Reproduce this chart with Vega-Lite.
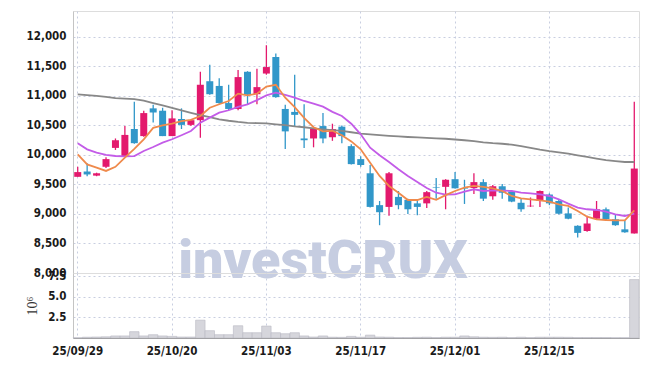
{
  "$schema": "https://vega.github.io/schema/vega-lite/v6.json",
  "padding": {"left": 25, "top": 10, "right": 9, "bottom": 5},
  "background": "white",
  "spacing": 0,
  "bounds": "flush",
  "config": {
    "view": {"stroke": "#dddddd"},
    "axis": {
      "labelFont": "DejaVu Sans Condensed",
      "labelFontSize": 11.5,
      "labelFontWeight": "bold",
      "labelColor": "#1a1a1a",
      "gridColor": "#c8cee0",
      "gridDash": [2, 3],
      "gridWidth": 1,
      "domainColor": "#c4c4c4",
      "ticks": false,
      "tickSize": 0,
      "labelPadding": 7
    }
  },
  "datasets": {
    "k": [
      {"d":"25/09/29","o":9630,"c":9710,"h":9800,"l":9630,"v":0.03,"m5":10010,"m10":10198,"mL":11028},
      {"d":"25/09/30","o":9720,"c":9670,"h":9860,"l":9640,"v":0.10,"m5":9840,"m10":10096,"mL":11015},
      {"d":"25/10/01","o":9650,"c":9690,"h":9700,"l":9640,"v":0.12,"m5":9785,"m10":10039,"mL":11000},
      {"d":"25/10/02","o":9800,"c":9930,"h":9960,"l":9780,"v":0.15,"m5":9730,"m10":10000,"mL":10985},
      {"d":"25/10/10","o":10120,"c":10250,"h":10280,"l":10085,"v":0.25,"m5":9800,"m10":9983,"mL":10965},
      {"d":"25/10/13","o":9970,"c":10340,"h":10490,"l":9960,"v":0.25,"m5":9955,"m10":9975,"mL":10955},
      {"d":"25/10/14","o":10440,"c":10200,"h":10900,"l":10190,"v":0.77,"m5":10105,"m10":9980,"mL":10945},
      {"d":"25/10/15","o":10320,"c":10710,"h":10750,"l":10310,"v":0.25,"m5":10265,"m10":10068,"mL":10920},
      {"d":"25/10/16","o":10790,"c":10720,"h":10850,"l":10550,"v":0.40,"m5":10460,"m10":10136,"mL":10880},
      {"d":"25/10/17","o":10750,"c":10320,"h":10800,"l":10320,"v":0.25,"m5":10500,"m10":10209,"mL":10840},
      {"d":"25/10/20","o":10320,"c":10620,"h":10760,"l":10320,"v":0.20,"m5":10530,"m10":10266,"mL":10800},
      {"d":"25/10/21","o":10610,"c":10510,"h":10790,"l":10440,"v":0.12,"m5":10575,"m10":10335,"mL":10755},
      {"d":"25/10/22","o":10510,"c":10590,"h":10600,"l":10490,"v":0.12,"m5":10595,"m10":10407,"mL":10715},
      {"d":"25/10/23","o":10590,"c":11190,"h":11410,"l":10290,"v":2.17,"m5":10660,"m10":10548,"mL":10675},
      {"d":"25/10/24","o":11250,"c":11030,"h":11530,"l":11020,"v":0.89,"m5":10800,"m10":10633,"mL":10640},
      {"d":"25/10/27","o":11170,"c":10880,"h":11300,"l":10870,"v":0.40,"m5":10860,"m10":10718,"mL":10605},
      {"d":"25/10/28","o":10880,"c":10780,"h":11190,"l":10760,"v":0.40,"m5":10915,"m10":10758,"mL":10580},
      {"d":"25/10/29","o":10780,"c":11320,"h":11440,"l":10760,"v":1.49,"m5":11040,"m10":10814,"mL":10560},
      {"d":"25/10/30","o":11410,"c":11020,"h":11420,"l":10860,"v":0.64,"m5":11010,"m10":10859,"mL":10545},
      {"d":"25/10/31","o":11030,"c":11150,"h":11460,"l":10860,"v":0.64,"m5":11040,"m10":10930,"mL":10540},
      {"d":"25/11/03","o":11380,"c":11490,"h":11860,"l":11360,"v":1.45,"m5":11160,"m10":11011,"mL":10535},
      {"d":"25/11/04","o":11660,"c":10980,"h":11720,"l":10970,"v":0.64,"m5":11190,"m10":11056,"mL":10520},
      {"d":"25/11/05","o":10780,"c":10400,"h":10850,"l":10100,"v":0.52,"m5":10970,"m10":11017,"mL":10505},
      {"d":"25/11/06","o":10730,"c":10680,"h":11360,"l":10490,"v":0.64,"m5":10810,"m10":10972,"mL":10485},
      {"d":"25/11/07","o":10280,"c":10250,"h":10860,"l":10120,"v":0.25,"m5":10630,"m10":10915,"mL":10470},
      {"d":"25/11/10","o":10280,"c":10450,"h":10460,"l":10130,"v":0.12,"m5":10470,"m10":10870,"mL":10450},
      {"d":"25/11/11","o":10490,"c":10280,"h":10710,"l":10200,"v":0.25,"m5":10400,"m10":10820,"mL":10435},
      {"d":"25/11/12","o":10300,"c":10440,"h":10530,"l":10240,"v":0.10,"m5":10410,"m10":10730,"mL":10420},
      {"d":"25/11/13","o":10480,"c":10320,"h":10500,"l":10200,"v":0.08,"m5":10335,"m10":10661,"mL":10407},
      {"d":"25/11/14","o":10150,"c":9845,"h":10180,"l":9840,"v":0.20,"m5":10230,"m10":10530,"mL":10385},
      {"d":"25/11/17","o":9930,"c":9830,"h":9980,"l":9800,"v":0.10,"m5":10096,"m10":10350,"mL":10362},
      {"d":"25/11/18","o":9690,"c":9120,"h":9830,"l":9110,"v":0.35,"m5":9870,"m10":10124,"mL":10350},
      {"d":"25/11/19","o":9150,"c":9030,"h":9220,"l":8810,"v":0.12,"m5":9644,"m10":9995,"mL":10337},
      {"d":"25/11/20","o":9120,"c":9690,"h":9710,"l":8970,"v":0.10,"m5":9475,"m10":9881,"mL":10325},
      {"d":"25/11/21","o":9290,"c":9150,"h":9390,"l":9080,"v":0.05,"m5":9361,"m10":9757,"mL":10315},
      {"d":"25/11/24","o":9240,"c":9080,"h":9260,"l":9000,"v":0.05,"m5":9237,"m10":9644,"mL":10305},
      {"d":"25/11/25","o":9180,"c":9120,"h":9250,"l":8980,"v":0.08,"m5":9237,"m10":9542,"mL":10297},
      {"d":"25/11/26","o":9180,"c":9370,"h":9390,"l":9100,"v":0.10,"m5":9290,"m10":9440,"mL":10290},
      {"d":"25/11/27","o":9450,"c":9440,"h":9610,"l":9260,"v":0.05,"m5":9240,"m10":9360,"mL":10283},
      {"d":"25/11/28","o":9460,"c":9580,"h":9590,"l":9080,"v":0.10,"m5":9320,"m10":9330,"mL":10275},
      {"d":"25/12/01","o":9590,"c":9435,"h":9710,"l":9430,"v":0.10,"m5":9390,"m10":9334,"mL":10262},
      {"d":"25/12/02","o":9440,"c":9430,"h":9580,"l":9170,"v":0.25,"m5":9446,"m10":9378,"mL":10250},
      {"d":"25/12/03","o":9440,"c":9540,"h":9690,"l":9340,"v":0.15,"m5":9475,"m10":9419,"mL":10235},
      {"d":"25/12/04","o":9540,"c":9260,"h":9590,"l":9220,"v":0.10,"m5":9458,"m10":9390,"mL":10215},
      {"d":"25/12/05","o":9300,"c":9470,"h":9490,"l":9240,"v":0.08,"m5":9435,"m10":9401,"mL":10200},
      {"d":"25/12/08","o":9470,"c":9360,"h":9510,"l":9260,"v":0.10,"m5":9390,"m10":9395,"mL":10190},
      {"d":"25/12/09","o":9380,"c":9210,"h":9400,"l":9200,"v":0.05,"m5":9305,"m10":9390,"mL":10175},
      {"d":"25/12/10","o":9190,"c":9080,"h":9270,"l":9040,"v":0.10,"m5":9266,"m10":9361,"mL":10150},
      {"d":"25/12/11","o":9130,"c":9140,"h":9280,"l":9120,"v":0.05,"m5":9249,"m10":9351,"mL":10120},
      {"d":"25/12/12","o":9220,"c":9390,"h":9400,"l":9120,"v":0.10,"m5":9232,"m10":9334,"mL":10090},
      {"d":"25/12/15","o":9330,"c":9180,"h":9350,"l":9150,"v":0.10,"m5":9208,"m10":9305,"mL":10065},
      {"d":"25/12/16","o":9220,"c":9005,"h":9240,"l":8990,"v":0.10,"m5":9164,"m10":9249,"mL":10045},
      {"d":"25/12/17","o":9010,"c":8920,"h":9110,"l":8910,"v":0.08,"m5":9136,"m10":9175,"mL":10022},
      {"d":"25/12/18","o":8800,"c":8680,"h":8810,"l":8600,"v":0.05,"m5":9051,"m10":9107,"mL":9995},
      {"d":"25/12/19","o":8710,"c":8840,"h":8970,"l":8700,"v":0.05,"m5":8954,"m10":9080,"mL":9967},
      {"d":"25/12/22","o":8920,"c":9080,"h":9220,"l":8910,"v":0.05,"m5":8910,"m10":9068,"mL":9940},
      {"d":"25/12/23","o":9080,"c":8910,"h":9110,"l":8890,"v":0.05,"m5":8898,"m10":9039,"mL":9912},
      {"d":"25/12/24","o":8910,"c":8810,"h":9000,"l":8800,"v":0.03,"m5":8893,"m10":8995,"mL":9895},
      {"d":"25/12/26","o":8740,"c":8690,"h":8890,"l":8680,"v":0.03,"m5":8893,"m10":8966,"mL":9881},
      {"d":"25/12/29","o":8670,"c":9770,"h":10900,"l":8670,"v":7.10,"m5":9062,"m10":9005,"mL":9881}
    ],
    "wm": [{"t":"investCRUX","d":"25/11/11","p":7920}]
  },
  "vconcat": [
    {
      "width": 566,
      "height": 262,
      "encoding": {
        "x": {
          "field": "d", "type": "ordinal", "sort": "ascending",
          "scale": {"paddingInner": 0, "paddingOuter": 0},
          "axis": {"values": ["25/09/29","25/10/20","25/11/03","25/11/17","25/12/01","25/12/15"], "labels": false, "domain": false, "grid": true, "bandPosition": 0.5, "title": null}
        }
      },
      "layer": [
        {
          "data": {"name": "wm"},
          "mark": {"type": "text", "font": "Roboto", "fontWeight": 900, "fontSize": 54, "color": "#c6cde1", "align": "center", "baseline": "alphabetic"},
          "encoding": {
            "text": {"field": "t"},
            "y": {"field": "p", "type": "quantitative", "scale": {"domain": [8000, 12440], "nice": false, "zero": false},
              "axis": {"values": [8000,8500,9000,9500,10000,10500,11000,11500,12000], "format": ",d", "title": null, "grid": true}}
          }
        },
        {
          "data": {"name": "k"},
          "mark": {"type": "rule", "strokeWidth": 1.3},
          "encoding": {
            "y": {"field": "l", "type": "quantitative", "scale": {"domain": [8000, 12440], "nice": false, "zero": false},
              "axis": {"values": [8000,8500,9000,9500,10000,10500,11000,11500,12000], "format": ",d", "title": null, "grid": true}},
            "y2": {"field": "h"},
            "color": {"condition": {"test": "datum.c >= datum.o", "value": "#e3196d"}, "value": "#3197c9"}
          }
        },
        {
          "data": {"name": "k"},
          "mark": {"type": "bar", "size": 7},
          "encoding": {
            "y": {"field": "o", "type": "quantitative", "scale": {"domain": [8000, 12440], "nice": false, "zero": false},
              "axis": {"values": [8000,8500,9000,9500,10000,10500,11000,11500,12000], "format": ",d", "title": null, "grid": true}},
            "y2": {"field": "c"},
            "color": {"condition": {"test": "datum.c >= datum.o", "value": "#e3196d"}, "value": "#3197c9"}
          }
        },
        {
          "data": {"name": "k"},
          "mark": {"type": "line", "color": "#888888", "strokeWidth": 1.8},
          "encoding": {"y": {"field": "mL", "type": "quantitative", "scale": {"domain": [8000, 12440], "nice": false, "zero": false},
              "axis": {"values": [8000,8500,9000,9500,10000,10500,11000,11500,12000], "format": ",d", "title": null, "grid": true}}}
        },
        {
          "data": {"name": "k"},
          "mark": {"type": "line", "color": "#c35ce8", "strokeWidth": 1.8},
          "encoding": {"y": {"field": "m10", "type": "quantitative", "scale": {"domain": [8000, 12440], "nice": false, "zero": false},
              "axis": {"values": [8000,8500,9000,9500,10000,10500,11000,11500,12000], "format": ",d", "title": null, "grid": true}}}
        },
        {
          "data": {"name": "k"},
          "mark": {"type": "line", "color": "#ef8a4c", "strokeWidth": 1.8},
          "encoding": {"y": {"field": "m5", "type": "quantitative", "scale": {"domain": [8000, 12440], "nice": false, "zero": false},
              "axis": {"values": [8000,8500,9000,9500,10000,10500,11000,11500,12000], "format": ",d", "title": null, "grid": true}}}
        }
      ]
    },
    {
      "width": 566,
      "height": 65,
      "data": {"name": "k"},
      "mark": {"type": "bar", "color": "#d6d6dc", "stroke": "#b9b9c2", "strokeWidth": 0.6},
      "encoding": {
        "x": {
          "field": "d", "type": "ordinal", "sort": "ascending",
          "scale": {"paddingInner": 0, "paddingOuter": 0},
          "axis": {"values": ["25/09/29","25/10/20","25/11/03","25/11/17","25/12/01","25/12/15"], "labelAngle": 0, "grid": true, "bandPosition": 0.5, "title": null, "labelPadding": 7, "domainColor": "#999999"}
        },
        "y": {
          "field": "v", "type": "quantitative",
          "scale": {"domain": [0, 7.9], "nice": false},
          "axis": {"values": [2.5, 5, 7.5], "format": ".1f", "title": "10⁶", "titleFont": "Liberation Serif", "titleFontSize": 14, "titleFontWeight": "normal", "titleColor": "#333333", "titlePadding": 8, "grid": true}
        }
      }
    }
  ]
}
